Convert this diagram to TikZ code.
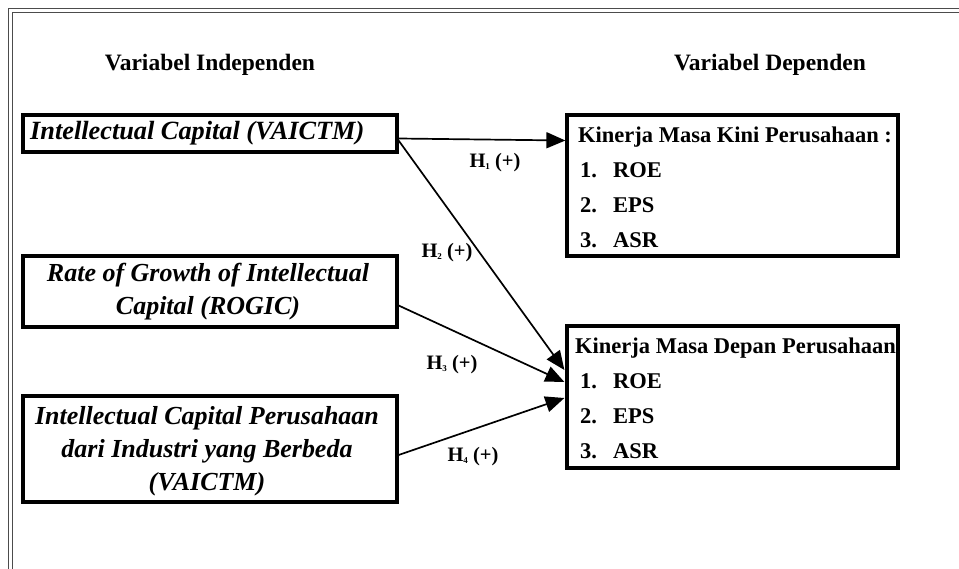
\documentclass[tikz,border=0pt]{standalone}
\usepackage{fontspec}
\setmainfont{Liberation Serif}
\usetikzlibrary{arrows.meta,calc}
\newcommand{\hsub}[1]{\raisebox{-1.5pt}{\fontsize{9}{9}\selectfont #1}}
\begin{document}
\begin{tikzpicture}[x=1pt,y=-1pt,
  box/.style={draw=black,line width=3.2pt,minimum width=374pt,inner sep=0pt},
  rbox/.style={draw=black,line width=3.2pt,minimum width=331pt,inner sep=0pt},
  lbl/.style={font=\fontsize{20.5}{24}\selectfont\bfseries,inner sep=0pt},
  head/.style={font=\fontsize{23.5}{28}\selectfont\bfseries,inner sep=0pt},
  itx/.style={font=\fontsize{26}{33}\selectfont\bfseries\itshape,align=center,inner sep=0pt},
  rtx/.style={font=\fontsize{22.5}{35}\selectfont\bfseries,align=left,inner sep=0pt,anchor=west},
  conn/.style={line width=1.7pt,-{Triangle[length=19pt,width=16pt]}},
  frameline/.style={line width=1.4pt,draw=black!70}]
\useasboundingbox (0,0) rectangle (959,569);
\fill[white] (0,0) rectangle (959,569);
% outer double frame (top and left)
\draw[frameline] (8.5,569) -- (8.5,8.5) -- (959,8.5);
\draw[frameline] (12.5,569) -- (12.5,12.5) -- (959,12.5);
% headings
\node[head] (hl) at (210,65) {Variabel Independen};
\node[head] (hr) at (770,65) {Variabel Dependen};
% left boxes
\node[box,minimum height=37pt] (b1) at (210,133.5) {};
\node[itx,anchor=west,font=\fontsize{26.3}{33}\selectfont\bfseries\itshape] (t1) at (30,133.5) {Intellectual Capital (VAICTM)};
\node[box,minimum height=71pt] (b2) at (210,291.5) {};
\node[itx] (t2) at (208,291.5) {Rate of Growth of Intellectual\\Capital (ROGIC)};
\node[box,minimum height=106pt] (b3) at (210,449) {};
\node[itx] (t3) at (207,451) {Intellectual Capital Perusahaan\\dari Industri yang Berbeda\\(VAICTM)};
% right boxes
\node[rbox,minimum height=141pt] (r1) at (732.5,185.5) {};
\node[rtx] (rt1) at (578,187.5) {Kinerja Masa Kini Perusahaan :\\\hspace*{2pt}\makebox[33pt][l]{1.}ROE\\\hspace*{2pt}\makebox[33pt][l]{2.}EPS\\\hspace*{2pt}\makebox[33pt][l]{3.}ASR};
\node[rbox,minimum height=142pt] (r2) at (732.5,397) {};
\node[rtx] (rt2) at (575,398.5) {Kinerja Masa Depan Perusahaan\\\hspace*{5pt}\makebox[33pt][l]{1.}ROE\\\hspace*{5pt}\makebox[33pt][l]{2.}EPS\\\hspace*{5pt}\makebox[33pt][l]{3.}ASR};
% connectors
\draw[conn] ($(b1.east)+(0,5)$) -- ($(r1.west)+(0,-45)$);
\draw[conn] ($(b1.east)+(0,7)$) -- ($(r2.west)+(-1,-27)$);
\draw[conn] ($(b2.east)+(0,14)$) -- ($(r2.west)+(-1,-15)$);
\draw[conn] ($(b3.east)+(0,6)$) -- ($(r2.west)+(-1,1)$);
% labels
\node[lbl] (l1) at (495,163) {H\hsub{1} (+)};
\node[lbl] (l2) at (447,253) {H\hsub{2} (+)};
\node[lbl] (l3) at (452,365) {H\hsub{3} (+)};
\node[lbl] (l4) at (473,457) {H\hsub{4} (+)};
\end{tikzpicture}
\end{document}
